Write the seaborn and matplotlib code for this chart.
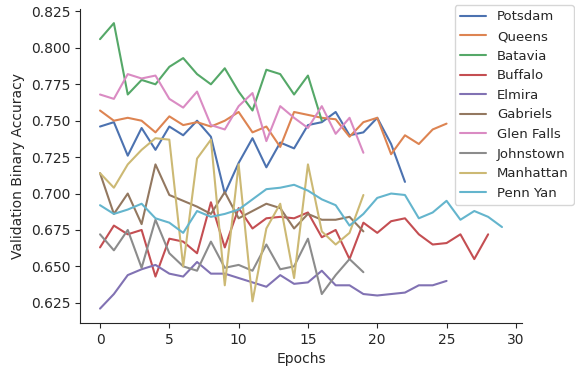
import matplotlib
matplotlib.use("Agg")
import matplotlib.pyplot as plt
import seaborn as sns
import pandas as pd

locations = ["Potsdam", "Queens", "Batavia", "Buffalo", "Elmira",
             "Gabriels", "Glen Falls", "Johnstown", "Manhattan", "Penn Yan"]

potsdam = [0.746, 0.749, 0.726, 0.745, 0.730, 0.746, 0.740, 0.750, 0.739, 0.700,
           0.721, 0.738, 0.718, 0.735, 0.731, 0.747, 0.749, 0.756, 0.740, 0.742,
           0.752, 0.734, 0.708]
queens = [0.757, 0.750, 0.752, 0.750, 0.742, 0.753, 0.747, 0.749, 0.746, 0.750,
          0.756, 0.742, 0.746, 0.732, 0.756, 0.754, 0.752, 0.751, 0.739, 0.749,
          0.752, 0.727, 0.740, 0.734, 0.744, 0.748]
batavia = [0.806, 0.817, 0.768, 0.778, 0.775, 0.787, 0.793, 0.782, 0.775, 0.786,
           0.770, 0.757, 0.785, 0.782, 0.768, 0.781, 0.750]
buffalo = [0.663, 0.678, 0.672, 0.675, 0.643, 0.669, 0.667, 0.659, 0.694, 0.663,
           0.690, 0.676, 0.683, 0.684, 0.683, 0.687, 0.670, 0.675, 0.655, 0.680,
           0.673, 0.681, 0.683, 0.672, 0.665, 0.666, 0.672, 0.655, 0.672]
elmira = [0.621, 0.631, 0.644, 0.648, 0.651, 0.645, 0.643, 0.653, 0.645, 0.645,
          0.642, 0.639, 0.636, 0.644, 0.638, 0.639, 0.647, 0.637, 0.637, 0.631,
          0.630, 0.631, 0.632, 0.637, 0.637, 0.640]
gabriels = [0.714, 0.686, 0.700, 0.679, 0.720, 0.699, 0.695, 0.691, 0.686, 0.701,
            0.683, 0.688, 0.693, 0.690, 0.676, 0.686, 0.682, 0.682, 0.684, 0.674]
glen_falls = [0.768, 0.765, 0.782, 0.779, 0.781, 0.765, 0.759, 0.770, 0.747, 0.744,
              0.760, 0.769, 0.736, 0.760, 0.752, 0.745, 0.760, 0.741, 0.752, 0.728]
johnstown = [0.672, 0.661, 0.675, 0.649, 0.682, 0.659, 0.650, 0.647, 0.667, 0.649,
             0.651, 0.647, 0.665, 0.648, 0.650, 0.669, 0.631, 0.644, 0.655, 0.646]
manhattan = [0.714, 0.704, 0.720, 0.730, 0.738, 0.737, 0.650, 0.724, 0.737, 0.637,
             0.720, 0.626, 0.676, 0.693, 0.642, 0.720, 0.674, 0.665, 0.673, 0.699]
penn_yan = [0.692, 0.686, 0.689, 0.693, 0.683, 0.680, 0.673, 0.688, 0.684, 0.686,
            0.689, 0.696, 0.703, 0.704, 0.706, 0.702, 0.696, 0.692, 0.678, 0.686,
            0.697, 0.700, 0.699, 0.683, 0.687, 0.695, 0.682, 0.688, 0.684, 0.677]

series = [potsdam, queens, batavia, buffalo, elmira,
          gabriels, glen_falls, johnstown, manhattan, penn_yan]

rows = []
for name, vals in zip(locations, series):
    for ep, v in enumerate(vals):
        rows.append({"Epochs": ep, "acc": v, "Location": name})
df = pd.DataFrame(rows)

sns.set_theme(style="ticks", palette="deep")
plt.rcParams["font.family"] = ["DejaVu Sans"]
plt.rcParams["font.size"] = 10

fig = plt.figure(figsize=(5.75, 3.69), dpi=100)
ax = fig.add_axes([0.139, 0.125, 0.769, 0.851])
sns.lineplot(data=df, x="Epochs", y="acc", hue="Location", hue_order=locations,
             ax=ax, linewidth=1.5)
ax.set_xlabel("Epochs", fontsize=10)
ax.set_ylabel("Validation Binary Accuracy", fontsize=10)
ax.tick_params(labelsize=10, length=3.5, width=0.8)
ax.set_xticks([0, 5, 10, 15, 20, 25, 30])
ax.set_yticks([0.625, 0.650, 0.675, 0.700, 0.725, 0.750, 0.775, 0.800, 0.825])
sns.despine(ax=ax)
for s in ax.spines.values():
    s.set_linewidth(0.8)
leg = ax.legend(loc="upper right", bbox_to_anchor=(0.998, 0.986),
                bbox_transform=fig.transFigure, borderaxespad=0, fontsize=9.5,
                frameon=True)
fig.savefig("out.png", dpi=100)
